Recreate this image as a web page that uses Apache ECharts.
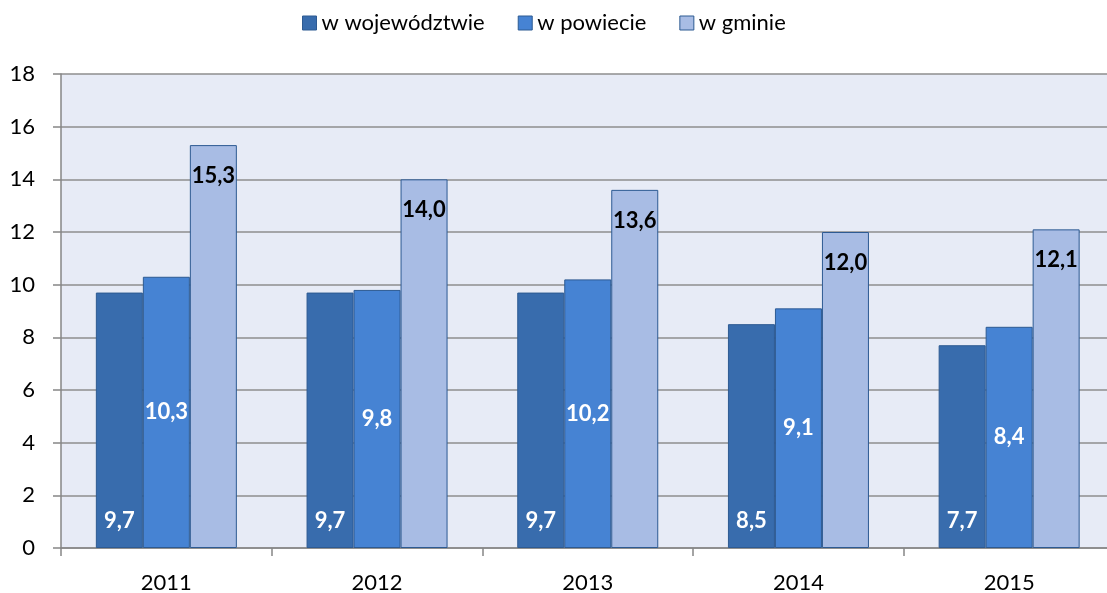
<!DOCTYPE html>
<html>
<head>
<meta charset="utf-8">
<script src="https://cdn.jsdelivr.net/npm/echarts@6/dist/echarts.min.js"></script>
<style>
  html, body { margin: 0; padding: 0; background: #fff; }
  #chart { width: 1107px; height: 593px; }
</style>
</head>
<body>
<div id="chart"></div>
<script>
// dane z wykresu
const years = ['2011', '2012', '2013', '2014', '2015']
const wojewodztwo = [9.7, 9.7, 9.7, 8.5, 7.7]
const powiat = [10.3, 9.8, 10.2, 9.1, 8.4]
const gmina = [15.3, 14.0, 13.6, 12.0, 12.1]

const font = 'Lato, "Noto Sans", sans-serif'
const fmt = p => p.value.toFixed(1).replace('.', ',')

const chart = echarts.init(document.getElementById('chart'))

// wspolny styl etykiet
function label (pos, color, dist) {
  return {
    show: true,
    position: pos,
    distance: dist,
    formatter: fmt,
    color: color,
    fontWeight: 'bold',
    fontSize: 22,
    fontFamily: font
  }
}

chart.setOption({
  animation: false,
  legend: {
    top: 7,
    left: 297,
    icon: 'rect',
    itemWidth: 14,
    itemHeight: 14,
    itemGap: 33,
    itemStyle: { borderColor: '#2D5A92', borderWidth: 1 },
    textStyle: { fontSize: 22, color: '#000', fontFamily: font },
    data: ['w województwie', 'w powiecie', 'w gminie']
  },
  // obszar wykresu wychodzi poza prawa krawedz obrazka
  grid: {
    left: 61,
    right: -7.5,
    top: 74,
    bottom: 45,
    outerBoundsMode: 'none',
    containLabel: false,
    show: true,
    backgroundColor: '#E7EBF6',
    borderWidth: 0
  },
  xAxis: {
    type: 'category',
    data: years,
    axisLine: { lineStyle: { color: '#868686', width: 1.5 } },
    axisTick: { show: true, length: 8, lineStyle: { color: '#868686', width: 1.5 } },
    axisLabel: { fontSize: 22, color: '#000', margin: 24, fontFamily: font }
  },
  yAxis: {
    type: 'value',
    min: 0,
    max: 18,
    interval: 2,
    axisLine: { show: true, lineStyle: { color: '#868686', width: 1.5 } },
    axisTick: { show: true, length: 8, lineStyle: { color: '#868686', width: 1.5 } },
    splitLine: { lineStyle: { color: '#8E8E8E', width: 1.5 } },
    axisLabel: { fontSize: 22, color: '#000', margin: 26, fontFamily: font }
  },
  series: [
    {
      name: 'w województwie',
      type: 'bar',
      data: wojewodztwo,
      barWidth: 47,
      barGap: '0%',
      itemStyle: { color: '#386CAD', borderColor: '#2D5A92', borderWidth: 1 },
      label: label('insideBottom', '#fff', 16)
    },
    {
      name: 'w powiecie',
      type: 'bar',
      data: powiat,
      barWidth: 47,
      barGap: '0%',
      itemStyle: { color: '#4683D3', borderColor: '#2D5A92', borderWidth: 1 },
      label: label('inside', '#fff', 0)
    },
    {
      name: 'w gminie',
      type: 'bar',
      data: gmina,
      barWidth: 47,
      barGap: '0%',
      itemStyle: { color: '#A8BCE4', borderColor: '#2D5A92', borderWidth: 1 },
      label: label('insideTop', '#000', 20)
    }
  ]
})
</script>
</body>
</html>
